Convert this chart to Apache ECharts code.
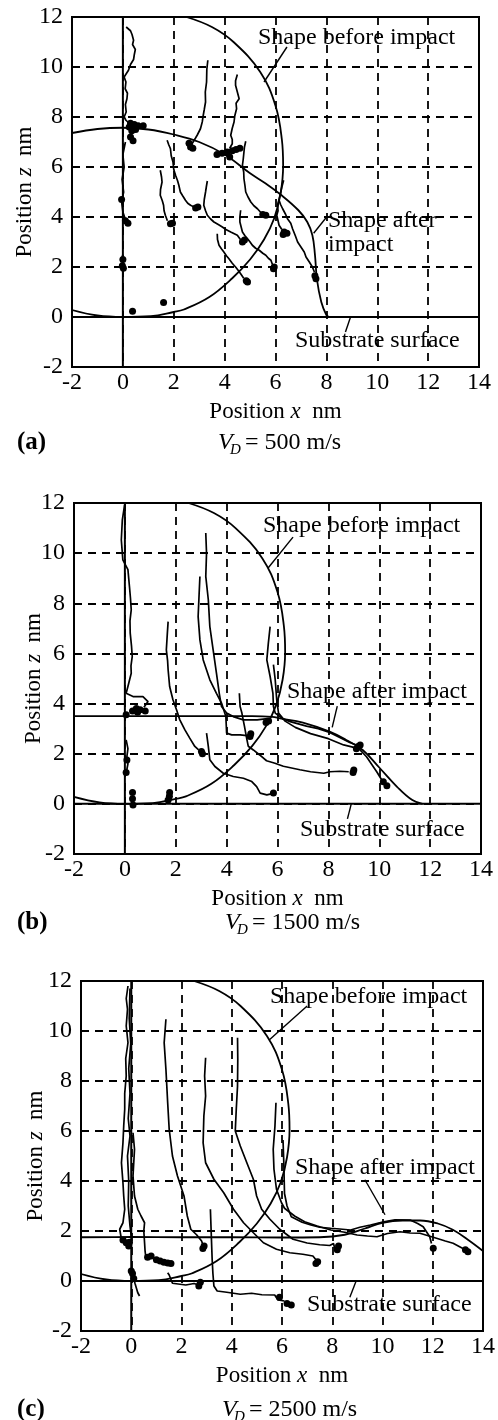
<!DOCTYPE html>
<html>
<head>
<meta charset="utf-8">
<script src="https://cdn.jsdelivr.net/npm/echarts@6.0.0/dist/echarts.min.js"></script>
<style>
html,body{margin:0;padding:0;background:#fff}
#chart{width:498px;height:1420px}
</style>
</head>
<body>
<div id="chart"></div>
<script>
// Axis ticks (nm)
const xTicks = [-2, 0, 2, 4, 6, 8, 10, 12, 14];
const yTicks = [-2, 0, 2, 4, 6, 8, 10, 12];

// Reference lines: substrate surface (z = 0) and droplet axis (x = 0)
const substrateLine = [[-2, 0], [14, 0]];
const centerLine = [[0, -2], [0, 12]];

// Droplet outline before impact (same for every velocity)
const shapeBefore = [[-2.0,0.28],[-1.0,0.06],[0.0,0.0],[1.1,0.03],[2.0,0.2],[2.4,0.3],[3.4,0.8],[4.3,1.55],
  [5.0,2.3],[5.55,3.1],[5.95,3.95],[6.2,4.95],[6.3,6.05],[6.25,7.1],[6.0,8.45],[5.4,9.8],[4.35,11.0],[3.5,11.6],[2.5,12.0]];

// ---------- (a) V_D = 500 m/s ----------
const afterA = [[-2,7.36],[-1,7.52],[0,7.57],[1,7.5],[2,7.3],[3,7.0],[4,6.5],[5,5.75],[5.6,5.35],[6.2,4.9],
  [6.9,4.27],[7.25,3.8],[7.45,3.27],[7.55,2.5],[7.63,1.5],[7.8,0.6],[8.0,0.08],[8.1,0]];
const tracksA = [
  [[0.13,11.6],[0.3,11.45],[0.36,11.3],[0.42,11.07],[0.38,10.9],[0.49,10.7],[0.45,10.5],[0.42,10.3],[0.3,10.1],[0.22,9.87],[0.05,9.6],[0.12,9.4],[0.09,9.13],[0.18,8.95],[0.16,8.73],[0.1,8.5],[0.13,8.2],[0.05,8.0],[0.12,7.87],[0.3,7.7]],
  [[0.1,7.0],[0.0,6.5],[0.05,6.0],[-0.03,5.5],[0.03,5.0],[-0.05,4.6],[0.0,4.2],[0.1,3.9]],
  [[0.0,2.5],[-0.05,2.3],[0.02,2.1],[-0.02,1.95]],
  [[3.34,10.27],[3.3,9.9],[3.29,9.4],[3.24,9.0],[3.25,8.6],[3.2,8.3],[3.16,8.07],[3.12,7.8],[3.05,7.53],[2.92,7.27],[2.85,7.15],[2.79,7.07],[2.7,6.9]],
  [[4.5,9.7],[4.43,9.45],[4.43,9.27],[4.5,9.0],[4.57,8.73],[4.45,8.55],[4.47,8.33],[4.4,8.05],[4.37,7.8],[4.3,7.55],[4.24,7.27],[4.3,7.1],[4.3,6.93],[4.2,6.75]],
  [[1.74,7.07],[1.8,6.9],[1.87,6.73],[1.9,6.45],[1.97,6.2],[2.0,5.9],[2.07,5.67],[2.15,5.45],[2.2,5.27],[2.26,5.0],[2.35,4.85],[2.46,4.67],[2.55,4.55],[2.66,4.47],[2.8,4.4]],
  [[1.47,5.87],[1.52,5.6],[1.54,5.4],[1.48,5.1],[1.47,4.87],[1.55,4.65],[1.6,4.47],[1.62,4.25],[1.67,4.07],[1.75,3.85]],
  [[3.32,5.44],[3.28,5.2],[3.25,5.0],[3.2,4.7],[3.18,4.47],[3.25,4.25],[3.32,4.07],[3.45,3.92],[3.58,3.8],[3.75,3.7],[3.91,3.6],[4.05,3.5],[4.24,3.4],[4.4,3.32],[4.5,3.27],[4.62,3.1]],
  [[4.83,7.03],[4.78,6.8],[4.76,6.6],[4.73,6.3],[4.7,6.07],[4.75,5.8],[4.76,5.53],[4.8,5.25],[4.83,5.0],[4.92,4.8],[5.03,4.6],[5.15,4.45],[5.29,4.33],[5.45,4.15]],
  [[4.63,4.27],[4.6,4.0],[4.6,3.8],[4.65,3.6],[4.7,3.4],[4.8,3.25],[4.9,3.13],[5.0,3.0],[5.09,2.87],[5.22,2.75],[5.36,2.67],[5.5,2.55],[5.62,2.47],[5.72,2.35],[5.82,2.27],[5.88,2.1]],
  [[3.71,3.33],[3.72,3.1],[3.78,2.87],[3.88,2.72],[3.97,2.6],[4.07,2.45],[4.17,2.33],[4.3,2.15],[4.43,2.0],[4.53,1.87],[4.63,1.73],[4.75,1.55]],
  [[6.32,5.47],[6.25,5.2],[6.21,5.0],[6.15,4.75],[6.08,4.47],[6.1,4.25],[6.05,4.07],[6.1,3.85],[6.14,3.67],[6.25,3.5]],
  [[6.14,4.67],[6.2,4.5],[6.28,4.33],[6.4,4.1],[6.47,3.93],[6.6,3.75],[6.67,3.53],[6.78,3.25],[6.87,3.0],[7.0,2.8],[7.13,2.6],[7.2,2.4],[7.33,2.2],[7.45,2.0],[7.53,1.8]]
];
const clustersA = [[0.3,7.75],[0.45,7.7],[0.6,7.65],[0.8,7.65],[0.35,7.45],[0.5,7.5],[0.3,7.2],[0.4,7.05],[0.25,7.6],
  [0.1,3.85],[0.2,3.75],[-0.05,4.7],[0.0,2.3],[-0.02,2.05],[0.02,1.95],[0.38,0.23],[1.6,0.58],
  [2.66,6.8],[2.75,6.75],[2.6,6.95],[4.1,6.6],[4.3,6.65],[4.45,6.7],[4.6,6.75],[3.9,6.55],[3.7,6.5],[4.2,6.4],
  [2.86,4.36],[2.95,4.4],[1.87,3.73],[1.95,3.75],[4.7,3.0],[4.78,3.08],[5.62,4.07],[5.5,4.1],
  [5.92,1.93],[5.95,2.0],[4.9,1.4],[4.85,1.45],[6.34,3.4],[6.45,3.35],[6.3,3.3],[7.59,1.53],[7.55,1.65]];
const leadersA = [[[6.45,10.8],[5.55,9.4]], [[8.05,4.05],[7.5,3.35]], [[8.95,0],[8.75,-0.6]]];

// ---------- (b) V_D = 1500 m/s ----------
const afterB = [[-2,3.5],[0,3.5],[2,3.5],[4,3.5],[5,3.5],[5.8,3.47],[6.1,3.41],[7.0,3.24],[8.05,2.88],[8.7,2.55],
  [9.35,2.15],[10.0,1.45],[10.7,0.68],[11.3,0.15],[11.7,0]];
const tracksB = [
  [[-0.01,11.93],[-0.1,11.33],[-0.14,10.53],[-0.08,9.73],[0.12,9.34],[0.18,8.67],[0.22,8.2],[0.25,7.74],[0.2,7.3],[0.21,6.81],[0.26,6.3],[0.29,5.88],[0.24,5.5],[0.25,5.21],[0.12,4.68],[0.05,4.41],[0.32,4.28],[0.71,4.28],[0.91,4.08],[0.75,3.85]],
  [[0.05,2.55],[0.12,2.2],[0.08,1.89],[0.12,1.6],[0.05,1.22]],
  [[1.7,7.27],[1.67,6.81],[1.63,6.14],[1.68,5.7],[1.7,5.35],[1.76,4.68],[1.89,4.15],[2.03,3.75],[2.16,3.35],[2.36,2.95],[2.55,2.62],[2.75,2.29],[2.9,2.15]],
  [[3.21,2.82],[3.28,2.29],[3.34,1.76],[3.54,1.49],[3.87,1.22],[4.26,1.09],[4.66,1.02],[4.99,0.89],[5.18,0.69],[5.32,0.43],[5.58,0.36],[5.75,0.4]],
  [[3.18,10.8],[3.21,10.0],[3.18,9.07],[3.28,8.14],[3.34,7.07],[3.47,6.14],[3.6,5.21],[3.71,4.41],[3.8,3.88],[4.0,3.62],[4.26,3.48],[4.66,3.35],[5.2,3.35],[5.6,3.4]],
  [[2.95,9.07],[2.92,8.4],[2.88,7.47],[2.95,6.54],[3.08,5.74],[3.34,4.95],[3.6,4.41],[3.8,4.02],[3.97,3.48],[4.0,2.82],[4.2,2.75],[4.53,2.75],[4.8,2.72]],
  [[4.5,4.41],[4.53,3.88],[4.6,3.62],[4.7,3.1],[4.79,2.6],[4.85,2.3],[5.05,2.15],[5.3,1.95],[5.57,1.72],[5.9,1.62],[6.23,1.5],[6.88,1.36],[7.3,1.28],[7.82,1.22],[8.06,1.28],[8.45,1.3],[8.8,1.28]],
  [[5.71,7.07],[5.64,6.41],[5.58,5.74],[5.71,5.08],[5.82,4.41],[5.84,3.88],[5.91,3.62],[6.2,3.4],[6.5,3.28],[7.14,3.1],[7.6,3.0],[8.05,2.85],[8.45,2.65],[8.84,2.45],[9.1,2.35]],
  [[5.84,5.55],[5.91,4.95],[5.97,4.15],[6.04,3.62],[6.3,3.3],[6.7,3.05],[7.3,2.8],[8.0,2.6],[8.6,2.35],[9.2,2.2],[9.5,1.88],[9.9,1.28],[10.1,0.95]]
];
const clustersB = [[0.3,3.7],[0.45,3.8],[0.6,3.75],[0.8,3.7],[0.5,3.65],[0.05,3.55],
  [0.08,1.75],[0.05,1.25],[0.3,0.45],[0.3,0.2],[0.32,-0.05],[1.76,0.45],[1.7,0.15],[1.75,0.3],
  [3.01,2.09],[3.05,2.0],[5.84,0.43],[5.65,3.3],[5.55,3.25],[4.92,2.69],[4.95,2.8],
  [8.97,1.25],[9.0,1.35],[9.17,2.29],[9.25,2.35],[9.1,2.2],[10.16,0.88],[10.3,0.72]];
const leadersB = [[[6.61,10.64],[5.63,9.41]], [[8.35,3.9],[8.15,3.05]], [[8.9,0],[8.75,-0.6]]];

// ---------- (c) V_D = 2500 m/s ----------
const afterC = [[-2,1.75],[0,1.76],[2,1.75],[4,1.75],[6,1.74],[7.5,1.75],[8.5,1.85],[9.3,2.1],[10.0,2.33],
  [10.8,2.42],[11.5,2.42],[12.2,2.3],[12.8,2.05],[13.4,1.65],[14,1.2]];
const tracksC = [
  [[-0.13,11.8],[-0.2,11.3],[-0.15,10.87],[-0.2,10.2],[-0.13,9.53],[-0.22,8.9],[-0.2,8.2],[-0.26,7.5],[-0.26,6.87],[-0.3,6.2],[-0.33,5.53],[-0.39,4.73],[-0.33,3.93],[-0.3,3.4],[-0.26,2.87],[-0.33,2.33],[-0.46,2.07],[-0.39,1.67],[-0.25,1.55]],
  [[-0.05,11.7],[-0.08,10.5],[-0.02,9.5],[-0.1,8.5],[-0.05,7.5],[-0.12,6.5],[-0.05,5.8],[-0.15,5.0],[-0.1,4.0],[-0.12,3.0],[-0.05,2.2],[0.0,1.8]],
  [[0.07,5.93],[0.13,5.27],[0.07,4.2],[0.13,3.4],[0.26,2.87],[0.39,2.6],[0.53,2.33],[0.5,2.0],[0.53,1.53],[0.55,1.2],[0.59,0.87]],
  [[0.0,0.47],[0.07,0.2],[0.15,-0.1],[0.26,-0.47],[0.33,-0.6]],
  [[1.38,10.47],[1.31,9.53],[1.38,8.47],[1.45,7.13],[1.51,6.07],[1.64,5.0],[1.84,4.2],[2.1,3.4],[2.23,2.6],[2.37,2.07],[2.6,1.85],[2.8,1.6],[2.85,1.45]],
  [[2.96,8.93],[2.92,8.2],[2.96,7.4],[2.89,6.6],[2.86,5.53],[2.96,4.73],[3.29,4.07],[3.68,3.53],[4.07,2.87],[4.47,2.33],[4.86,1.93],[5.26,1.53],[5.78,1.27],[6.31,1.13],[6.83,1.07],[7.23,1.0],[7.35,0.85]],
  [[4.23,9.73],[4.24,8.87],[4.23,7.8],[4.18,6.87],[4.14,6.0],[4.34,5.4],[4.6,4.73],[4.86,4.07],[4.99,3.4],[5.19,2.87],[5.52,2.47],[5.91,2.07],[6.44,1.67],[7.0,1.52],[7.5,1.45],[7.9,1.42],[8.05,1.5],[8.1,1.3]],
  [[5.76,7.13],[5.72,6.2],[5.65,5.27],[5.68,4.47],[5.78,3.67],[5.98,3.13],[6.1,2.91],[6.5,2.6],[6.9,2.37],[7.4,2.2],[7.94,2.04],[8.5,1.95],[8.99,1.84],[9.4,1.8],[9.78,1.77],[10.2,1.9],[10.7,1.97],[11.1,1.92],[11.49,1.91],[12.15,1.71],[12.5,1.6],[12.81,1.51],[13.2,1.3]],
  [[3.15,2.87],[3.18,2.0],[3.22,0.87],[3.25,0.3],[3.29,-0.2],[3.42,-0.4],[3.8,-0.45],[4.34,-0.53],[4.79,-0.49],[5.2,-0.55],[5.71,-0.56],[5.84,-0.76],[6.1,-0.8]],
  [[1.45,0.33],[1.51,0.24],[1.64,-0.09],[2.17,-0.16],[2.5,-0.1],[2.69,-0.16]],
  [[6.04,5.64],[6.07,4.8],[6.1,3.5],[6.2,3.0],[6.37,2.57],[6.8,2.35],[7.15,2.24],[7.5,2.15],[7.94,2.11],[8.3,2.08],[8.73,2.04],[9.1,2.15],[9.52,2.24],[10.05,2.37],[10.5,2.45],[11.1,2.44],[11.4,2.3],[11.62,2.17],[11.88,1.77],[11.95,1.5]]
];
const clustersC = [[-0.2,1.53],[-0.33,1.64],[-0.07,1.55],[-0.1,1.4],
  [0.65,0.95],[0.79,1.0],[1.0,0.85],[1.15,0.8],[1.3,0.75],[1.45,0.72],[1.58,0.7],
  [0.05,0.3],[0.1,0.1],[0.0,0.4],[2.9,1.4],[2.85,1.3],[7.42,0.77],[7.35,0.7],[8.2,1.25],[8.25,1.4],
  [13.4,1.17],[13.3,1.25],[6.2,-0.9],[6.37,-0.96],[5.9,-0.65],[2.69,-0.2],[2.75,-0.05],[12.02,1.31]];
const leadersC = [[[7.0,11.0],[5.5,9.65]], [[9.3,4.05],[10.1,2.65]], [[8.95,0],[8.7,-0.65]]];

const panels = [
  { after: afterA, tracks: tracksA, clusters: clustersA, leaders: leadersA, tag: '(a)', speed: '500' },
  { after: afterB, tracks: tracksB, clusters: clustersB, leaders: leadersB, tag: '(b)', speed: '1500' },
  { after: afterC, tracks: tracksC, clusters: clustersC, leaders: leadersC, tag: '(c)', speed: '2500' }
];

// ---------- layout ----------
const FONT = '"Liberation Serif", "Times New Roman", serif';
const grids = [
  { left: 72, top: 17, width: 407, height: 350 },
  { left: 74, top: 503, width: 407, height: 351 },
  { left: 81, top: 981, width: 406, height: 350 }
];
const yNameGap = [36, 29, 34];
const notes = [
  { before: [258, 38], after: [[328, 221, 'Shape after'], [328, 245, 'impact']], surface: [295, 341], tag: [17, 443], speedAt: [218, 443] },
  { before: [263, 526], after: [[287, 692, 'Shape after impact']], surface: [300, 830], tag: [17, 923], speedAt: [225, 923] },
  { before: [270, 997], after: [[295, 1168, 'Shape after impact']], surface: [307, 1305], tag: [17, 1410], speedAt: [222, 1410] }
];

const chart = echarts.init(document.getElementById('chart'), null, { renderer: 'canvas' });

const gridOpts = grids.map(g => Object.assign({ show: true, borderColor: '#000', borderWidth: 2, backgroundColor: 'transparent' }, g));

const nameRich = {
  n: { fontFamily: FONT, fontSize: 23, color: '#000' },
  i: { fontFamily: FONT, fontSize: 23, fontStyle: 'italic', color: '#000' }
};

const dashed = { show: true, lineStyle: { color: '#000', width: 1.8, type: [8, 6] } };

const xAxes = grids.map((g, p) => ({
  type: 'value', gridIndex: p,
  min: xTicks[0], max: xTicks[xTicks.length - 1], interval: xTicks[1] - xTicks[0],
  axisLine: { show: false }, axisTick: { show: false },
  axisLabel: { fontFamily: FONT, fontSize: 24, color: '#000', margin: 4, showMinLabel: true, showMaxLabel: true },
  splitLine: dashed,
  name: '{n|Position }{i|x}{n|  nm}', nameLocation: 'middle', nameGap: 33, nameMoveOverlap: false,
  nameTextStyle: { rich: nameRich }
}));

const yAxes = grids.map((g, p) => ({
  type: 'value', gridIndex: p,
  min: yTicks[0], max: yTicks[yTicks.length - 1], interval: yTicks[1] - yTicks[0],
  axisLine: { show: false }, axisTick: { show: false },
  axisLabel: { fontFamily: FONT, fontSize: 24, color: '#000', margin: 9, showMinLabel: true, showMaxLabel: true },
  splitLine: dashed,
  name: '{n|Position }{i|z}{n|  nm}', nameLocation: 'middle', nameGap: yNameGap[p], nameRotate: 90, nameMoveOverlap: false,
  nameTextStyle: { rich: nameRich }
}));

const series = [];
panels.forEach((d, p) => {
  const base = { type: 'line', xAxisIndex: p, yAxisIndex: p, symbol: 'none', showSymbol: false, silent: true, animation: false, clip: true };
  series.push(Object.assign({}, base, { data: centerLine, lineStyle: { color: '#000', width: 2 } }));
  series.push(Object.assign({}, base, { data: substrateLine, lineStyle: { color: '#000', width: 2 } }));
  series.push(Object.assign({}, base, { data: shapeBefore, smooth: 0.4, lineStyle: { color: '#000', width: 1.8 } }));
  series.push(Object.assign({}, base, { data: d.after, smooth: 0.4, lineStyle: { color: '#000', width: 1.8 } }));
  d.tracks.forEach(t => series.push(Object.assign({}, base, { data: t, lineStyle: { color: '#000', width: 1.7 } })));
  d.leaders.forEach(l => series.push(Object.assign({}, base, { data: l, lineStyle: { color: '#000', width: 1.4 } })));
  series.push({ type: 'scatter', xAxisIndex: p, yAxisIndex: p, data: d.clusters, symbol: 'circle', symbolSize: 7,
    itemStyle: { color: '#000', opacity: 1 }, silent: true, animation: false });
});

// Text annotations
const graphics = [];
const txt = (x, y, text, font) => ({
  type: 'text', x: x, y: y, silent: true,
  style: { text: text, font: font || ('24px ' + FONT), fill: '#000', align: 'left', verticalAlign: 'middle' }
});
notes.forEach((n, p) => {
  graphics.push(txt(n.before[0], n.before[1], 'Shape before impact'));
  n.after.forEach(a => graphics.push(txt(a[0], a[1], a[2])));
  graphics.push(txt(n.surface[0], n.surface[1], 'Substrate surface'));
  graphics.push(txt(n.tag[0], n.tag[1], panels[p].tag, 'bold 25px ' + FONT));
  const sx = n.speedAt[0], sy = n.speedAt[1];
  graphics.push(txt(sx, sy, 'V', 'italic 24px ' + FONT));
  graphics.push(txt(sx + 12, sy + 7, 'D', 'italic 15px ' + FONT));
  graphics.push(txt(sx + 27, sy, '= ' + panels[p].speed + ' m/s'));
});

chart.setOption({
  animation: false,
  backgroundColor: '#fff',
  grid: gridOpts,
  xAxis: xAxes,
  yAxis: yAxes,
  series: series,
  graphic: graphics
});
</script>
</body>
</html>
